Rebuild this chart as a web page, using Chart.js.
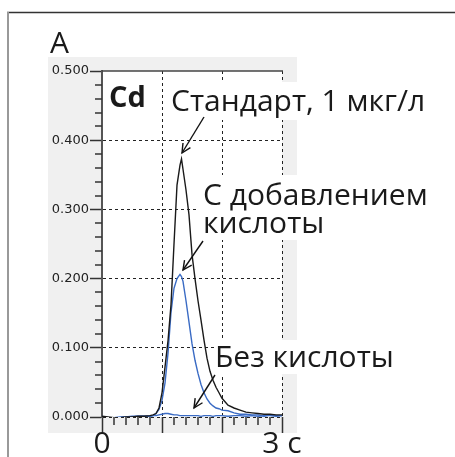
<!DOCTYPE html>
<html><head><meta charset="utf-8">
<script src="https://cdn.jsdelivr.net/npm/chart.js@4"></script>
<style>html,body{margin:0;padding:0;background:#fff}canvas{display:block}</style>
</head><body>
<canvas id="c" width="455" height="457"></canvas>
<script>
// ---- data (time in s, absorbance A) ----
const times      = [0,0.1,0.2,0.3,0.4,0.5,0.6,0.7,0.8,0.85,0.9,0.95,1.0,1.05,1.1,1.15,1.2,1.25,1.3,1.325,1.35,1.4,1.45,1.5,1.55,1.6,1.65,1.7,1.75,1.8,1.85,1.9,1.95,2.0,2.1,2.2,2.3,2.4,2.5,2.6,2.7,2.8,2.9,3.0];
const standard   = [0.001,0.000,-0.001,-0.001,0.000,0.000,0.001,0.001,0.002,0.003,0.005,0.013,0.035,0.072,0.110,0.162,0.250,0.335,0.364,0.373,0.358,0.328,0.292,0.235,0.200,0.168,0.140,0.111,0.085,0.066,0.053,0.043,0.035,0.027,0.017,0.013,0.010,0.007,0.006,0.005,0.004,0.004,0.003,0.003];
const withAcid   = [0.001,-0.001,-0.002,-0.001,0.000,0.000,0.001,0.001,0.001,0.002,0.005,0.011,0.024,0.049,0.092,0.151,0.186,0.200,0.206,0.203,0.196,0.168,0.137,0.106,0.082,0.063,0.047,0.035,0.026,0.020,0.016,0.013,0.012,0.010,0.009,0.006,0.004,0.004,0.003,0.003,0.001,0.003,0.002,0.002];
const noAcid     = [0.001,-0.001,-0.001,0.000,0.000,0.001,0.001,0.001,0.001,0.002,0.002,0.003,0.004,0.005,0.005,0.004,0.003,0.003,0.002,0.002,0.002,0.002,0.002,0.002,0.002,0.002,0.001,0.002,0.002,0.002,0.001,0.002,0.002,0.002,0.001,0.002,0.002,0.001,0.002,0.001,0.002,0.002,0.001,0.002];
const xTickValues = [0,3];
const xTickText   = ['0','3 с'];
const yMin = 0, yMax = 0.5, yStep = 0.1;
const xMin = 0, xMax = 3, xStep = 1;
const seriesNames = ['Стандарт, 1 мкг/л','С добавлением кислоты','Без кислоты'];

const toPts = arr => times.map((t,i)=>({x:t,y:arr[i]}));

const deco = {
  id:'deco',
  beforeDraw(chart){
    const {ctx, chartArea:a} = chart;
    ctx.save();
    ctx.fillStyle='#fff'; ctx.fillRect(0,0,chart.width,chart.height);
    ctx.fillStyle='#f0f0f0'; ctx.fillRect(48,57,249,376);
    ctx.fillStyle='#fff'; ctx.fillRect(a.left,a.top,a.right-a.left,a.bottom-a.top);
    // outer frame
    ctx.strokeStyle='#333'; ctx.lineWidth=1.5;
    ctx.beginPath(); ctx.moveTo(7,12.5); ctx.lineTo(455,12.5); ctx.stroke();
    ctx.strokeStyle='#999'; ctx.lineWidth=2;
    ctx.beginPath(); ctx.moveTo(8,12); ctx.lineTo(8,457); ctx.stroke();
    ctx.restore();
  },
  afterDraw(chart){
    const {ctx, chartArea:a, scales:{x:xs,y:ys}} = chart;
    ctx.save();
    // minor ticks
    ctx.strokeStyle='#333'; ctx.lineWidth=1.5;
    for(let i=0;i<=15;i++){ if(i%5===0) continue;
      const px=Math.round(xs.getPixelForValue(i*0.2));
      ctx.beginPath(); ctx.moveTo(px,a.bottom); ctx.lineTo(px,a.bottom+8); ctx.stroke(); }
    for(let i=0;i<=25;i++){ if(i%5===0) continue;
      const py=Math.round(ys.getPixelForValue(i*0.02));
      ctx.beginPath(); ctx.moveTo(a.left,py); ctx.lineTo(a.left-7,py); ctx.stroke(); }
    // solid top border
    ctx.strokeStyle='#444'; ctx.lineWidth=1.5;
    const ty=ys.getPixelForValue(yMax);
    ctx.beginPath(); ctx.moveTo(a.left,ty); ctx.lineTo(a.right+1,ty); ctx.stroke();
    // white boxes behind annotations
    ctx.fillStyle='#fff';
    ctx.fillRect(168,82,275,38);
    ctx.fillRect(197,175,240,65);
    ctx.fillRect(214,340,195,34);
    // texts
    ctx.fillStyle='#1a1a1a';
    ctx.textBaseline='alphabetic';
    ctx.font='30px "Open Sans"';
    ctx.fillText('A',50,53);
    ctx.font='bold 29px "Open Sans"';
    ctx.fillText('Cd',109,107);
    ctx.font='30px "Open Sans"';
    ctx.fillText(seriesNames[0],171,111);
    ctx.fillText('С добавлением',203,205);
    ctx.fillText('кислоты',203,233);
    ctx.fillText(seriesNames[2],215,367);
    // arrows
    const arrow=(x1,y1,x2,y2)=>{
      ctx.strokeStyle='#111'; ctx.lineWidth=1.4;
      ctx.beginPath(); ctx.moveTo(x1,y1); ctx.lineTo(x2,y2); ctx.stroke();
      const ang=Math.atan2(y2-y1,x2-x1), L=10, w=0.45;
      ctx.beginPath();
      ctx.moveTo(x2-L*Math.cos(ang-w),y2-L*Math.sin(ang-w));
      ctx.lineTo(x2,y2);
      ctx.lineTo(x2-L*Math.cos(ang+w),y2-L*Math.sin(ang+w));
      ctx.stroke();
    };
    arrow(204,117,182,153);
    arrow(203,241,183,270);
    arrow(215,375,194,408);
    ctx.restore();
  }
};

new Chart(document.getElementById('c'),{
  type:'line',
  data:{datasets:[
    {label:seriesNames[0],data:toPts(standard),borderColor:'#1a1a1a',borderWidth:1.4,pointRadius:0,tension:0,fill:false},
    {label:seriesNames[2],data:toPts(noAcid),borderColor:'#3a6bc4',borderWidth:1.4,pointRadius:0,tension:0,fill:false},
    {label:seriesNames[1],data:toPts(withAcid),borderColor:'#3a6bc4',borderWidth:1.4,pointRadius:0,tension:0,fill:false}
  ]},
  options:{
    responsive:false, animation:false,
    layout:{padding:{left:0,top:71,right:173,bottom:0}},
    plugins:{legend:{display:false},tooltip:{enabled:false}},
    scales:{
      x:{type:'linear',min:xMin,max:xMax,
        afterFit(s){s.height=40;},
        afterBuildTicks(s){s.ticks=[0,1,2,3].map(v=>({value:v}));},
        ticks:{stepSize:xStep,autoSkip:false,maxRotation:0,padding:-7,color:'#1a1a1a',
          font:{family:'"Open Sans"',size:30},
          callback:v=>{const k=xTickValues.indexOf(v);return k>=0?xTickText[k]:'';}},
        grid:{color:c=>c.tick&&c.tick.value===0?'rgba(0,0,0,0)':'#222',lineWidth:1,tickLength:16,tickColor:'#333',tickWidth:1.5},
        border:{display:false,dash:[3,3]}
      },
      y:{type:'linear',min:yMin,max:yMax,
        afterFit(s){s.width=102;},
        ticks:{stepSize:yStep,padding:1,color:'#222',font:{family:'"DejaVu Sans"',size:13},
          callback:v=>v.toFixed(3)},
        grid:{color:c=>c.tick&&Math.abs(c.tick.value-yMax)<1e-9?'rgba(0,0,0,0)':'#222',lineWidth:1,tickLength:12,tickColor:'#333',tickWidth:1.5},
        border:{display:true,color:'#555',width:2,dash:[3,3]}
      }
    }
  },
  plugins:[deco]
});
</script>
</body></html>
